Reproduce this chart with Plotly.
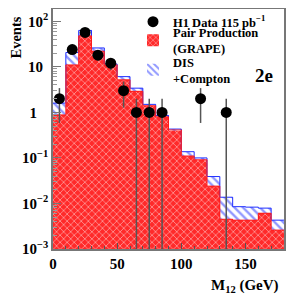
import numpy as np
import plotly.graph_objects as go

# Bin edges (GeV) and histogram contents
bin_edges = [0, 10, 20, 30, 40, 50, 60, 70, 80, 90, 100, 110, 120, 130, 140, 150, 160, 170, 180]
grape = [0.88, 11, 48, 22, 11, 5.2, 2.9, 1.4, 0.8, 0.41, 0.11, 0.091, 0.024, 0.0045, 0.0043, 0.0043, 0.0061, 0.0026]
dis_compton = [0.72, 9.6, 15, 4, 0.5, 0.9, 0.5, 0.1, 0.05, 0.02, 0.027, 0.009, 0.015, 0.0092, 0.0042, 0.004, 0.0018, 0.0017]

# H1 data points
data_x = [5, 15, 25, 35, 45, 55, 65, 75, 85, 115, 135]
data_n = [2, 24, 57, 18, 12, 3, 1, 1, 1, 2, 1]

y_tickvals = [1e-3, 1e-2, 1e-1, 1, 10, 100]
y_ticktext = ["10<sup>−3</sup>", "10<sup>−2</sup>", "10<sup>−1</sup>",
              "1<span style='color:rgba(0,0,0,0)'><sup>−1</sup></span>",
              "10<span style='color:rgba(0,0,0,0)'><sup>2</sup></span>", "10<sup>2</sup>"]
x_tickvals = [0, 50, 100, 150]

edges = np.array(bin_edges, dtype=float)
centers = (edges[:-1] + edges[1:]) / 2
widths = np.diff(edges)
grape_a = np.array(grape)
total = grape_a + np.array(dis_compton)

serif = "Liberation Serif"
RED = "#ff1a1a"
BLUE = "#2030ff"

# page has an 8px body margin; figure is 292x292 placed at (8,8)
W = H = 292
PL, PR, PT, PB = 45, 16, 1, 51
pw, ph = W - PL - PR, H - PT - PB


def px(xw):  # window x pixel -> paper fraction
    return (xw - 8 - PL) / pw


def py(yw):  # window y pixel -> paper fraction
    return 1 - (yw - 8 - PT) / ph


fig = go.Figure()

fig.add_trace(go.Bar(
    x=centers, y=grape, width=widths, name="Pair Production<br>(GRAPE)", legend="legend2",
    marker=dict(color="white", line=dict(width=0),
                pattern=dict(shape="x", fgcolor="white", bgcolor="#ff2a2a", size=5, solidity=0.3)),
))
fig.add_trace(go.Bar(
    x=centers, y=dis_compton, width=widths, name="DIS<br>+Compton", legend="legend3",
    marker=dict(color="white", line=dict(width=0),
                pattern=dict(shape="\\", fgcolor=BLUE, bgcolor="white", size=6, solidity=0.4)),
))

# outlines as step lines
step_x = list(edges[:-1]) + [edges[-1]]
fig.add_trace(go.Scatter(x=step_x, y=list(total) + [total[-1]], mode="lines",
                         line=dict(color=BLUE, width=1, shape="hv"), showlegend=False, hoverinfo="skip"))
fig.add_trace(go.Scatter(x=step_x, y=list(grape_a) + [grape_a[-1]], mode="lines",
                         line=dict(color=RED, width=1, shape="hv"), showlegend=False, hoverinfo="skip"))

n = np.array(data_n, dtype=float)
err = np.sqrt(n)
err_minus = np.minimum(err, n * 0.99999)
fig.add_trace(go.Scatter(
    x=data_x, y=data_n, mode="markers", name="H1 Data 115 pb<sup>−1</sup>", legend="legend",
    marker=dict(color="black", size=11),
    error_y=dict(type="data", array=err, arrayminus=err_minus, color="#555555", thickness=1.5, width=0),
))

legfont = dict(family=serif, size=12.5, weight="bold")
legcommon = dict(xanchor="left", yanchor="middle", bgcolor="rgba(0,0,0,0)", font=legfont,
                 itemwidth=30, tracegroupgap=0)

fig.update_layout(
    width=W, height=H,
    margin=dict(l=PL, r=PR, t=PT, b=PB, autoexpand=False),
    plot_bgcolor="white", paper_bgcolor="white",
    barmode="stack", bargap=0,
    font=dict(family=serif, size=14, color="black", weight="bold"),
    legend=dict(x=px(133), y=py(22), **legcommon),
    legend2=dict(x=px(133), y=py(40.5), **legcommon),
    legend3=dict(x=px(133), y=py(70), **legcommon),
    xaxis=dict(range=[0, 180], tickvals=x_tickvals, ticks="inside", ticklen=6, tickcolor="#555",
               minor=dict(dtick=10, ticks="inside", ticklen=3, tickcolor="#555"),
               showline=True, linecolor="#777", mirror=True, linewidth=1.5, showgrid=False, zeroline=False,
               automargin=False,
               tickfont=dict(family=serif, size=15, weight="bold")),
    yaxis=dict(type="log", range=[-3, 2.27], tickvals=y_tickvals, ticktext=y_ticktext,
               ticks="inside", ticklen=8, tickcolor="#777",
               minor=dict(ticks="inside", ticklen=4, tickcolor="#999", dtick="D1"),
               showline=True, linecolor="#777", mirror=True, linewidth=1.5, showgrid=False, zeroline=False,
               automargin=False,
               tickfont=dict(family=serif, size=15, weight="bold")),
)

fig.add_annotation(text="Events", textangle=-90, xref="paper", yref="paper",
                   x=px(15.5), y=py(38), xanchor="center", yanchor="middle", showarrow=False,
                   font=dict(family=serif, size=14.5, weight="bold"))
fig.add_annotation(text="M<sub>12</sub> (GeV)", xref="paper", yref="paper",
                   x=px(281), y=py(286), xanchor="right", yanchor="middle", showarrow=False,
                   font=dict(family=serif, size=15, weight="bold"))
fig.add_annotation(text="2e", xref="paper", yref="paper",
                   x=px(264), y=py(75), xanchor="center", yanchor="middle", showarrow=False,
                   font=dict(family=serif, size=19))

fig.write_html("out.html")
